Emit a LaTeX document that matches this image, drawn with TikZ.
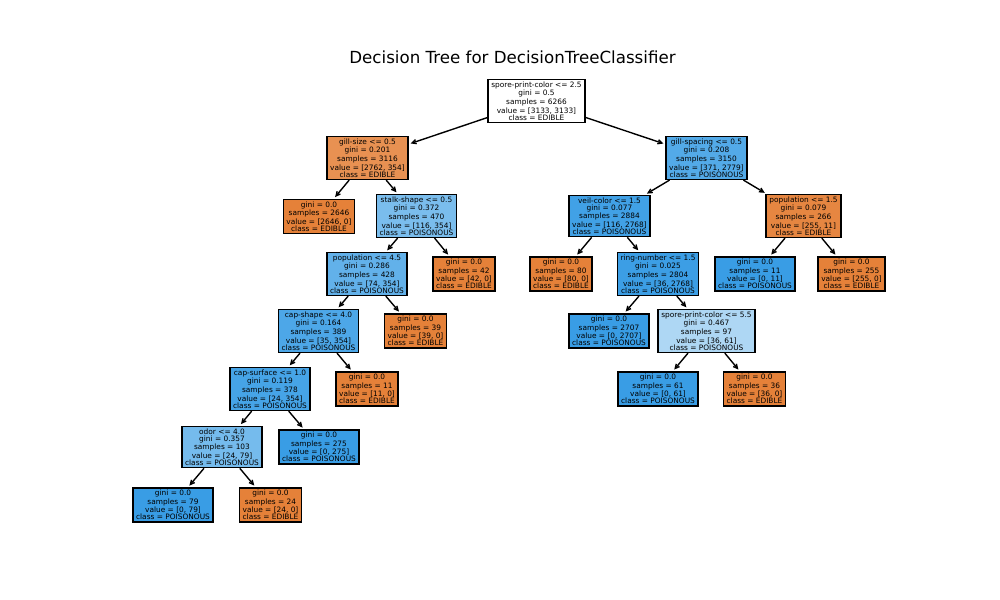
\documentclass[tikz,border=0pt]{standalone}
\usepackage{fontspec}
\setmainfont{DejaVu Sans}
\usetikzlibrary{arrows.meta}
\definecolor{orF}{HTML}{E58139}
\definecolor{blF}{HTML}{399DE5}
\definecolor{cGillSize}{HTML}{E89152}
\definecolor{cGillSp}{HTML}{53AAE8}
\definecolor{cStalk}{HTML}{7ABDED}
\definecolor{cVeil}{HTML}{41A1E6}
\definecolor{cPop}{HTML}{E68641}
\definecolor{cPopB}{HTML}{62B1EA}
\definecolor{cRing}{HTML}{3C9EE5}
\definecolor{cCapSh}{HTML}{4DA7E8}
\definecolor{cSpore}{HTML}{AED7F4}
\definecolor{cCapSu}{HTML}{46A4E7}
\definecolor{cOdor}{HTML}{75BBED}
\tikzset{
  tnode/.style={draw=black, line width=1bp, rectangle, align=center,
    font=\fontsize{5.33bp}{5.04bp}\selectfont, inner xsep=2.3bp, inner ysep=1.6bp, text=black},
  edge/.style={line width=1bp, -{Straight Barb[length=3bp,width=3bp]}, shorten >=1.5bp}
}
\begin{document}
\begin{tikzpicture}[x=0.72bp,y=-0.72bp]
\useasboundingbox (0,0) rectangle (1000,600);
\node[font=\fontsize{12bp}{14bp}\selectfont, anchor=base] (title) at (512.5,64) {Decision Tree for DecisionTreeClassifier};

\node[tnode, fill=white] (n0) at (536.5,101) {spore-print-color <= 2.5\\gini = 0.5\\samples = 6266\\value = [3133, 3133]\\class = EDIBLE};
\node[tnode, fill=cGillSize] (n1) at (367.5,158) {gill-size <= 0.5\\gini = 0.201\\samples = 3116\\value = [2762, 354]\\class = EDIBLE};
\node[tnode, fill=cGillSp] (n2) at (706.5,158) {gill-spacing <= 0.5\\gini = 0.208\\samples = 3150\\value = [371, 2779]\\class = POISONOUS};
\node[tnode, fill=orF] (n3) at (319,216.5) {gini = 0.0\\samples = 2646\\value = [2646, 0]\\class = EDIBLE};
\node[tnode, fill=cStalk] (n4) at (416.5,216) {stalk-shape <= 0.5\\gini = 0.372\\samples = 470\\value = [116, 354]\\class = POISONOUS};
\node[tnode, fill=cVeil] (n5) at (609.5,216) {veil-color <= 1.5\\gini = 0.077\\samples = 2884\\value = [116, 2768]\\class = POISONOUS};
\node[tnode, fill=cPop] (n6) at (803.5,216) {population <= 1.5\\gini = 0.079\\samples = 266\\value = [255, 11]\\class = EDIBLE};
\node[tnode, fill=cPopB] (n7) at (367,274) {population <= 4.5\\gini = 0.286\\samples = 428\\value = [74, 354]\\class = POISONOUS};
\node[tnode, fill=orF] (n8) at (464,274) {gini = 0.0\\samples = 42\\value = [42, 0]\\class = EDIBLE};
\node[tnode, fill=orF] (n9) at (561,274) {gini = 0.0\\samples = 80\\value = [80, 0]\\class = EDIBLE};
\node[tnode, fill=cRing] (n10) at (658,274) {ring-number <= 1.5\\gini = 0.025\\samples = 2804\\value = [36, 2768]\\class = POISONOUS};
\node[tnode, fill=blF] (n11) at (755,274) {gini = 0.0\\samples = 11\\value = [0, 11]\\class = POISONOUS};
\node[tnode, fill=orF] (n12) at (851.5,274) {gini = 0.0\\samples = 255\\value = [255, 0]\\class = EDIBLE};
\node[tnode, fill=cCapSh] (n13) at (318.5,331) {cap-shape <= 4.0\\gini = 0.164\\samples = 389\\value = [35, 354]\\class = POISONOUS};
\node[tnode, fill=orF] (n14) at (415.5,331) {gini = 0.0\\samples = 39\\value = [39, 0]\\class = EDIBLE};
\node[tnode, fill=blF] (n15) at (609,331) {gini = 0.0\\samples = 2707\\value = [0, 2707]\\class = POISONOUS};
\node[tnode, fill=cSpore] (n16) at (706.5,331) {spore-print-color <= 5.5\\gini = 0.467\\samples = 97\\value = [36, 61]\\class = POISONOUS};
\node[tnode, fill=cCapSu] (n17) at (270,389) {cap-surface <= 1.0\\gini = 0.119\\samples = 378\\value = [24, 354]\\class = POISONOUS};
\node[tnode, fill=orF] (n18) at (367,389) {gini = 0.0\\samples = 11\\value = [11, 0]\\class = EDIBLE};
\node[tnode, fill=blF] (n19) at (658,389) {gini = 0.0\\samples = 61\\value = [0, 61]\\class = POISONOUS};
\node[tnode, fill=orF] (n20) at (754.5,389) {gini = 0.0\\samples = 36\\value = [36, 0]\\class = EDIBLE};
\node[tnode, fill=cOdor] (n21) at (222,447) {odor <= 4.0\\gini = 0.357\\samples = 103\\value = [24, 79]\\class = POISONOUS};
\node[tnode, fill=blF] (n22) at (319,447) {gini = 0.0\\samples = 275\\value = [0, 275]\\class = POISONOUS};
\node[tnode, fill=blF] (n23) at (173,505) {gini = 0.0\\samples = 79\\value = [0, 79]\\class = POISONOUS};
\node[tnode, fill=orF] (n24) at (270.5,505) {gini = 0.0\\samples = 24\\value = [24, 0]\\class = EDIBLE};

\foreach \p/\c in {n0/n1,n0/n2,n1/n3,n1/n4,n2/n5,n2/n6,n4/n7,n4/n8,n5/n9,n5/n10,n6/n11,n6/n12,n7/n13,n7/n14,n10/n15,n10/n16,n13/n17,n13/n18,n16/n19,n16/n20,n17/n21,n17/n22,n21/n23,n21/n24}
  \draw[edge] (\p) -- (\c);
\end{tikzpicture}
\end{document}
